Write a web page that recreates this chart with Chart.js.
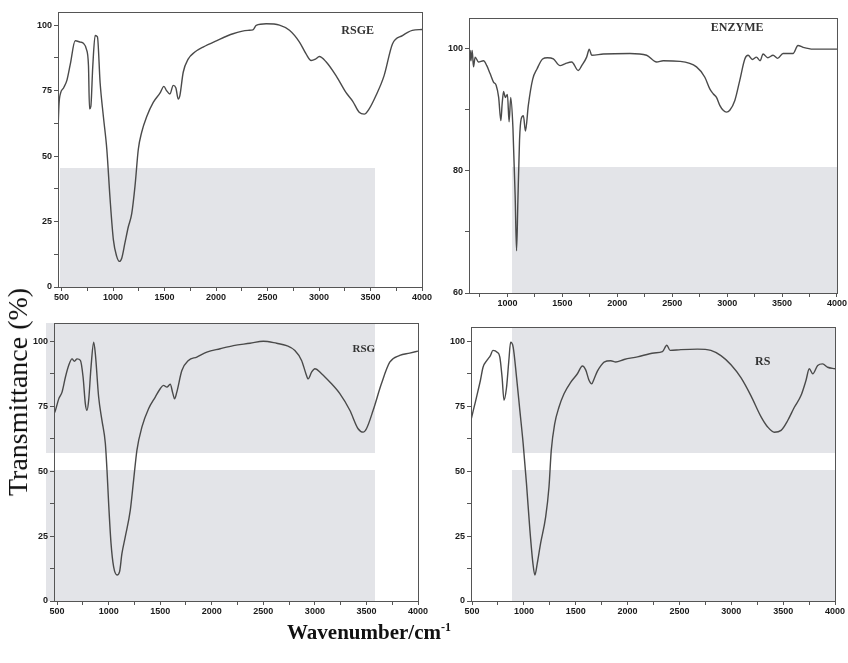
<!DOCTYPE html>
<html>
<head>
<meta charset="utf-8">
<script src="https://cdn.jsdelivr.net/npm/chart.js@4.4.0/dist/chart.umd.min.js"></script>
<style>
  body { margin: 0; background: #fff; }
  #wrap { position: relative; width: 848px; height: 663px; overflow: hidden; }
  #wrap canvas { position: absolute; left: 0; top: 0; }
  .shade { position: absolute; background: #e3e4e8; }
  .ytitle {
    position: absolute; left: 18px; top: 392px;
    transform: translate(-50%, -50%) rotate(-90deg);
    white-space: nowrap; font: 28px 'Liberation Serif', serif; color: #111;
  }
  .xtitle {
    position: absolute; left: 369px; top: 632px;
    transform: translate(-50%, -50%);
    white-space: nowrap; font: bold 21px 'Liberation Serif', serif; color: #111;
  }
  .xtitle sup { font-size: 12px; }
</style>
</head>
<body>
<div id="wrap">
  <!-- grey scan shading behind the panels -->
  <div class="shade" style="left:60px;top:168px;width:315px;height:120px"></div>
  <div class="shade" style="left:512px;top:167px;width:325px;height:126px"></div>
  <div class="shade" style="left:46px;top:323px;width:329px;height:130px"></div>
  <div class="shade" style="left:46px;top:470px;width:329px;height:131px"></div>
  <div class="shade" style="left:512px;top:327px;width:323px;height:126px"></div>
  <div class="shade" style="left:512px;top:470px;width:323px;height:131px"></div>

  <canvas id="rsge" width="848" height="663"></canvas>
  <canvas id="enzyme" width="848" height="663"></canvas>
  <canvas id="rsg" width="848" height="663"></canvas>
  <canvas id="rs" width="848" height="663"></canvas>

  <div class="ytitle">Transmittance (%)</div>
  <div class="xtitle">Wavenumber/cm<sup>-1</sup></div>
</div>

<script>
// RSGE 스펙트럼
const rsgeWave = [465, 475, 490, 519, 552, 584, 632, 681, 713, 739, 761, 771, 784, 803, 826, 848, 874, 906, 939, 971,
    1003, 1035, 1061, 1084, 1116, 1148, 1181, 1213, 1245, 1277, 1326, 1390, 1455, 1494, 1519, 1552, 1584, 1610, 1632, 1648,
    1681, 1729, 1794, 1874, 2003, 2165, 2310, 2358, 2390, 2487, 2616, 2713, 2810, 2874, 2923, 2965, 3003, 3068, 3165, 3261,
    3326, 3390, 3439, 3487, 3552, 3632, 3713, 3810, 3906, 4000];
const rsgeTrans = [60, 70, 74, 76, 79, 85, 94, 93.5, 93, 91, 84.5, 68, 69, 84.5, 96, 95.5, 78, 65, 52.6, 33.5,
    18, 11.7, 9.8, 11, 17, 23, 28, 38.6, 52.6, 59, 65, 70.5, 74, 76.6, 75, 73.7, 77, 76, 71.8, 73,
    82, 87, 89.7, 91.6, 94, 96.7, 98, 98.2, 99.9, 100.5, 100, 98, 93.5, 89, 86.5, 87, 88, 86, 80.7, 74.3,
    71, 66.7, 66, 68, 73, 80.7, 92.8, 96, 98, 98.3];

// ENZYME 스펙트럼
const enzymeWave = [650, 661, 667, 679, 691, 706, 736, 782, 812, 842, 873, 897, 920, 940, 952, 965, 980, 1000, 1015, 1030,
    1050, 1070, 1083, 1095, 1110, 1125, 1145, 1164, 1190, 1230, 1270, 1320, 1364, 1418, 1479, 1524, 1585, 1645, 1676, 1721,
    1745, 1767, 1873, 2115, 2267, 2358, 2418, 2570, 2721, 2797, 2842, 2873, 2903, 2933, 2964, 2994, 3024, 3070, 3115, 3161,
    3191, 3230, 3267, 3300, 3327, 3370, 3418, 3460, 3509, 3600, 3645, 3691, 3782, 4000];
const enzymeTrans = [97, 99.7, 98, 99.7, 97, 98.6, 97.8, 98, 97.2, 95.9, 94.5, 94, 92, 88.2, 91, 93, 92, 92.5, 88, 92,
    87, 76, 66.9, 75, 85, 88.5, 89, 86.5, 90.7, 95, 96.7, 98.3, 98.5, 98.3, 97.2, 97.5, 97.8, 96.4, 97.2, 98.6,
    99.9, 98.9, 99.1, 99.2, 98.9, 97.8, 98, 97.9, 97, 95.3, 93.4, 92.6, 92, 90.7, 89.9, 89.6, 89.9, 91.5, 94.8, 98.3,
    98.9, 98.2, 98.6, 98.0, 99.1, 98.5, 98.9, 98.4, 99.2, 99.2, 100.5, 100.2, 99.9, 99.9];

// RSG 스펙트럼
const rsgWave = [470, 484, 516, 548, 581, 613, 645, 668, 694, 726, 752, 774, 790, 806, 829, 855, 871, 903, 935, 968,
    984, 1000, 1023, 1048, 1081, 1106, 1129, 1161, 1210, 1242, 1274, 1323, 1387, 1452, 1500, 1532, 1565, 1597, 1623, 1639,
    1661, 1710, 1774, 1855, 1952, 2081, 2210, 2371, 2500, 2629, 2726, 2806, 2871, 2913, 2935, 2968, 3000, 3065, 3145, 3242,
    3339, 3419, 3468, 3500, 3565, 3645, 3726, 3823, 3919, 4000];
const rsgTrans = [72, 73.4, 77.8, 80.4, 86.2, 90.7, 93.2, 92.3, 93.2, 92.6, 86.2, 75.9, 73.4, 77.2, 90, 99.6, 95.1, 78.5, 69.5, 60.6,
    50.3, 37.5, 22.2, 13.2, 10, 11.3, 18.3, 24.7, 35, 46.5, 58, 67, 74, 78.5, 81.7, 83, 82.3, 83.4, 79.8, 77.8,
    80.4, 88.7, 92.6, 93.9, 95.8, 97.1, 98.3, 99.2, 100, 99.2, 98.3, 96.4, 92.6, 87.5, 85.5, 88.1, 89.4, 87.5, 84.3, 79.8,
    73.4, 66.3, 65, 66.3, 73.4, 83.6, 91.9, 94.5, 95.4, 96.2];

// RS 스펙트럼
const rsWave = [492, 510, 532, 558, 581, 606, 645, 677, 702, 742, 768, 790, 808, 832, 855, 872, 897, 929, 961, 993,
    1025, 1058, 1087, 1106, 1129, 1161, 1210, 1242, 1264, 1297, 1338, 1387, 1451, 1516, 1564, 1596, 1628, 1654, 1677, 1709,
    1741, 1773, 1838, 1886, 1966, 2095, 2255, 2336, 2378, 2410, 2513, 2674, 2803, 2900, 2997, 3093, 3190, 3286, 3351, 3415,
    3480, 3544, 3608, 3672, 3720, 3752, 3785, 3833, 3881, 3929, 4000];
const rsTrans = [70, 73, 76.6, 81, 85, 90, 92.7, 94.5, 96.5, 95.8, 93.9, 86, 77.3, 82, 92.6, 99.6, 97.7, 86.2, 73.4, 60.6,
    45.2, 27.3, 14.5, 10, 14.5, 22.2, 32.4, 43.9, 58, 68.2, 74.6, 79.8, 84.2, 87.5, 90.5, 89, 85, 83.6, 85.5, 88.5,
    90.5, 92, 92.5, 92, 93, 94, 95.5, 96, 98.5, 96.5, 96.8, 97, 96.5, 94.5, 91, 86, 79, 71, 67, 65,
    65.7, 69.5, 74.6, 79.1, 84.9, 89.4, 87.5, 90.7, 91.3, 90, 89.4];

// 눈금 값
const xTicksFull = [500, 750, 1000, 1250, 1500, 1750, 2000, 2250, 2500, 2750, 3000, 3250, 3500, 3750, 4000];
const xTicksEnzyme = [750, 1000, 1250, 1500, 1750, 2000, 2250, 2500, 2750, 3000, 3250, 3500, 3750, 4000];
const yTicksFull = [0, 12.5, 25, 37.5, 50, 62.5, 75, 87.5, 100];
const yTicksEnzyme = [60, 70, 80, 90, 100];

const W = 848, H = 663, Y_AXIS_W = 32, X_AXIS_H = 20;
const INK = '#4a4a4a';

// 테두리 + 패널 라벨
const framePlugin = {
    id: 'frame',
    afterDraw(chart, args, opts) {
        const { ctx, chartArea: a, scales } = chart;
        ctx.save();
        ctx.strokeStyle = '#555';
        ctx.lineWidth = 1;
        ctx.strokeRect(a.left + 0.5, a.top + 0.5, a.right - a.left, a.bottom - a.top);
        ctx.font = 'bold ' + opts.size + 'px "Liberation Serif"';
        ctx.fillStyle = '#333';
        ctx.textAlign = 'center';
        ctx.textBaseline = 'middle';
        ctx.fillText(opts.text, scales.x.getPixelForValue(opts.x), scales.y.getPixelForValue(opts.y));
        ctx.restore();
    }
};

function makePanel(id, wave, trans, p) {
    const ctx = document.getElementById(id).getContext('2d');
    const tickFont = { family: 'Liberation Sans', size: 9, weight: 'bold' };
    return new Chart(ctx, {
        type: 'line',
        data: {
            datasets: [{
                data: wave.map((w, i) => ({ x: w, y: trans[i] })),
                borderColor: INK,
                borderWidth: 1.4,
                pointRadius: 0,
                cubicInterpolationMode: 'monotone',
                fill: false
            }]
        },
        options: {
            responsive: false,
            animation: false,
            layout: {
                padding: {
                    left: p.left - Y_AXIS_W,
                    right: W - p.right,
                    top: p.top,
                    bottom: H - p.bottom - X_AXIS_H
                }
            },
            plugins: {
                legend: { display: false },
                tooltip: { enabled: false },
                frame: { text: p.label, x: p.labelX, y: p.labelY, size: p.labelSize }
            },
            scales: {
                x: {
                    type: 'linear',
                    min: p.xMin, max: p.xMax,
                    afterBuildTicks: s => { s.ticks = p.xTicks.map(v => ({ value: v })); },
                    afterFit: s => { s.height = X_AXIS_H; },
                    grid: { drawOnChartArea: false, tickLength: 4, color: '#555' },
                    border: { color: '#555' },
                    ticks: {
                        font: tickFont, color: '#1a1a1a', padding: 1,
                        maxRotation: 0, autoSkip: false,
                        callback: v => (v % 500 === 0 ? v : '')
                    }
                },
                y: {
                    min: p.yMin, max: p.yMax,
                    afterBuildTicks: s => { s.ticks = p.yTicks.map(v => ({ value: v })); },
                    afterFit: s => { s.width = Y_AXIS_W; },
                    grid: { drawOnChartArea: false, tickLength: 4, color: '#555' },
                    border: { color: '#555' },
                    ticks: {
                        font: tickFont, color: '#1a1a1a', padding: 2,
                        callback: v => (v % p.yLabelStep === 0 ? v : '')
                    }
                }
            }
        },
        plugins: [framePlugin]
    });
}

document.addEventListener('DOMContentLoaded', function () {
    makePanel('rsge', rsgeWave, rsgeTrans, {
        left: 58, right: 422, top: 12, bottom: 287,
        xMin: 465, xMax: 4000, yMin: 0, yMax: 105,
        xTicks: xTicksFull, yTicks: yTicksFull, yLabelStep: 25,
        label: 'RSGE', labelX: 3375, labelY: 97.7, labelSize: 12
    });
    makePanel('enzyme', enzymeWave, enzymeTrans, {
        left: 469, right: 837, top: 18, bottom: 293,
        xMin: 650, xMax: 4000, yMin: 60, yMax: 105,
        xTicks: xTicksEnzyme, yTicks: yTicksEnzyme, yLabelStep: 20,
        label: 'ENZYME', labelX: 3091, labelY: 103.4, labelSize: 12
    });
    makePanel('rsg', rsgWave, rsgTrans, {
        left: 54, right: 418, top: 323, bottom: 601,
        xMin: 470, xMax: 4000, yMin: 0, yMax: 107,
        xTicks: xTicksFull, yTicks: yTicksFull, yLabelStep: 25,
        label: 'RSG', labelX: 3475, labelY: 96.9, labelSize: 11
    });
    makePanel('rs', rsWave, rsTrans, {
        left: 471, right: 835, top: 327, bottom: 601,
        xMin: 490, xMax: 4000, yMin: 0, yMax: 105.5,
        xTicks: xTicksFull, yTicks: yTicksFull, yLabelStep: 25,
        label: 'RS', labelX: 3303, labelY: 91.9, labelSize: 12
    });
});
</script>
</body>
</html>
